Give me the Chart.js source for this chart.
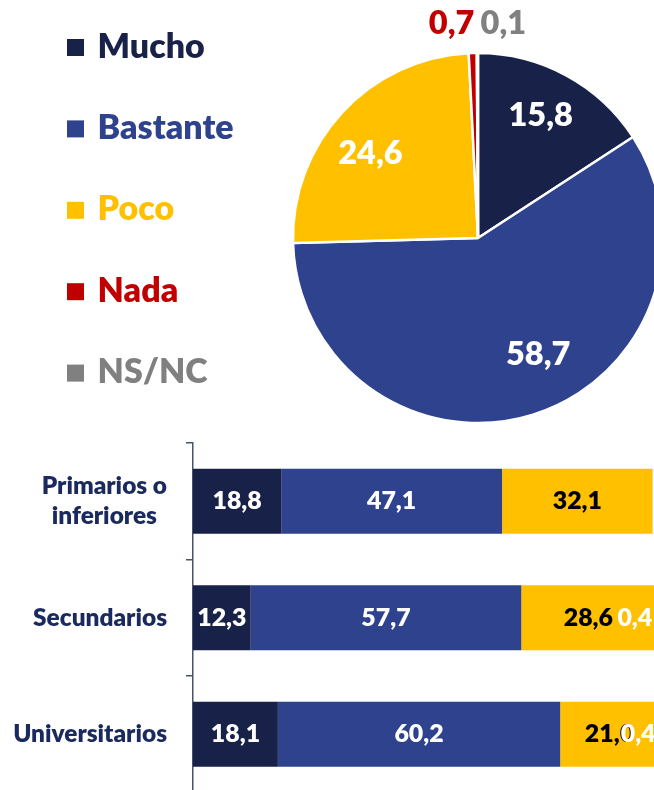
<!DOCTYPE html>
<html>
<head>
<meta charset="utf-8">
<script src="https://cdn.jsdelivr.net/npm/chart.js@4.4.0/dist/chart.umd.min.js"></script>
<style>
html,body{margin:0;padding:0;width:654px;height:790px;overflow:hidden;background:#fff;}
#pie{position:absolute;left:0;top:0;}
#bar{position:absolute;left:0;top:430px;}
</style>
</head>
<body>
<canvas id="pie" width="700" height="430"></canvas>
<canvas id="bar" width="700" height="380"></canvas>
<script>
// ---- data ----
const seriesNames = ['Mucho', 'Bastante', 'Poco', 'Nada', 'NS/NC'];
const seriesColors = ['#182148', '#2E428E', '#FFC000', '#C00000', '#808080'];
const pieValues = [15.8, 58.7, 24.6, 0.7, 0.1];
const categories = [['Primarios o', 'inferiores'], 'Secundarios', 'Universitarios'];
const mucho = [18.8, 12.3, 18.1];
const bastante = [47.1, 57.7, 60.2];
const poco = [32.1, 28.6, 21.0];
const nada = [1.4, 0.4, 0.4];
const nsnc = [0.6, 1.0, 0.3];
const nadaLabelShown = [false, true, true];

// ---- styling helpers ----
const FAMILY = 'Lato, "Open Sans", sans-serif';
const WEIGHT = '800';
function fitFont(text, target) {
  const c = document.createElement('canvas').getContext('2d');
  c.font = WEIGHT + ' 100px ' + FAMILY;
  return 100 * target / c.measureText(text).width;
}
const legendSize = fitFont('Bastante', 136);
const pieLabelSize = fitFont('15,8', 64.4);
const barLabelSize = fitFont('18,8', 49.3);
const catSize = fitFont('Secundarios', 134);
const fmt = v => v.toFixed(1).replace('.', ',');
const font = s => WEIGHT + ' ' + s + 'px ' + FAMILY;

// ---- pie chart ----
const pieLabelColors = ['#fff', '#fff', '#fff', '#C00000', '#808080'];
const pieLabelRadius = [0.74, 0.70, 0.72, 1, 1];
const pieLabelOffset = [[-2.6, -2.3], [21.6, -7.3], [-9.8, 6], [-21.2, -29.1], [25.9, -29]];

const pieLabelsPlugin = {
  id: 'pieLabels',
  afterDatasetsDraw(chart) {
    const ctx = chart.ctx;
    const meta = chart.getDatasetMeta(0);
    ctx.save();
    ctx.font = font(pieLabelSize);
    ctx.textAlign = 'center';
    ctx.textBaseline = 'middle';
    meta.data.forEach((arc, i) => {
      const p = arc.getProps(['x', 'y', 'startAngle', 'endAngle', 'outerRadius'], true);
      const mid = (p.startAngle + p.endAngle) / 2;
      const r = p.outerRadius * pieLabelRadius[i];
      const x = p.x + Math.cos(mid) * r + pieLabelOffset[i][0];
      const y = p.y + Math.sin(mid) * r + pieLabelOffset[i][1];
      ctx.fillStyle = pieLabelColors[i];
      ctx.fillText(fmt(pieValues[i]), x, y);
    });
    ctx.restore();
  }
};

const legendPlugin = {
  id: 'sideLegend',
  afterDraw(chart) {
    const ctx = chart.ctx;
    ctx.save();
    ctx.font = font(legendSize);
    ctx.textAlign = 'left';
    ctx.textBaseline = 'alphabetic';
    seriesNames.forEach((name, i) => {
      const cy = 47.5 + 81.4 * i;
      ctx.fillStyle = seriesColors[i];
      ctx.fillRect(67, cy - 8.5, 17, 17);
      ctx.fillText(name, 97.6, cy + 10);
    });
    ctx.restore();
  }
};

new Chart(document.getElementById('pie'), {
  type: 'pie',
  data: {
    labels: seriesNames,
    datasets: [{
      data: pieValues,
      backgroundColor: seriesColors,
      borderColor: '#ffffff',
      borderWidth: 2.5
    }]
  },
  options: {
    responsive: false,
    animation: false,
    radius: 185,
    layout: { padding: { left: 293, right: 37, top: 53, bottom: 7 } },
    plugins: { legend: { display: false }, tooltip: { enabled: false } }
  },
  plugins: [pieLabelsPlugin, legendPlugin]
});

// ---- stacked bar chart ----
const barLabelColors = ['#fff', '#fff', '#000', '#fff', null];

const barLabelsPlugin = {
  id: 'barLabels',
  afterDatasetsDraw(chart) {
    const ctx = chart.ctx;
    ctx.save();
    ctx.font = font(barLabelSize);
    ctx.textBaseline = 'middle';
    chart.data.datasets.forEach((ds, di) => {
      if (!barLabelColors[di]) return;
      const meta = chart.getDatasetMeta(di);
      meta.data.forEach((bar, i) => {
        const p = bar.getProps(['x', 'y', 'base'], true);
        ctx.fillStyle = barLabelColors[di];
        if (di === 3) {
          if (!nadaLabelShown[i]) return;
          ctx.textAlign = 'left';
          ctx.fillText(fmt(ds.data[i]), p.base - 38, p.y);
        } else {
          ctx.textAlign = 'center';
          ctx.fillText(fmt(ds.data[i]), (p.x + p.base) / 2, p.y);
        }
      });
    });
    ctx.restore();
  }
};

const catLabelsPlugin = {
  id: 'catLabels',
  afterDraw(chart) {
    const ctx = chart.ctx;
    const scale = chart.scales.y;
    ctx.save();
    ctx.font = font(catSize);
    ctx.fillStyle = '#1B2A5E';
    ctx.textAlign = 'center';
    ctx.textBaseline = 'middle';
    categories.forEach((cat, i) => {
      const lines = Array.isArray(cat) ? cat : [cat];
      const y = scale.getPixelForTick(i);
      const maxW = Math.max(...lines.map(l => ctx.measureText(l).width));
      const cx = 167 - maxW / 2;
      const lh = catSize * 1.21;
      lines.forEach((l, j) => {
        ctx.fillText(l, cx, y + (j - (lines.length - 1) / 2) * lh);
      });
    });
    ctx.restore();
  }
};

const barSeries = [mucho, bastante, poco, nada, nsnc];
new Chart(document.getElementById('bar'), {
  type: 'bar',
  data: {
    labels: categories,
    datasets: barSeries.map((d, i) => ({
      label: seriesNames[i],
      data: d,
      backgroundColor: seriesColors[i],
      borderColor: '#ffffff',
      borderWidth: i >= 3 ? { left: 2, right: 0, top: 0, bottom: 0 } : 0,
      borderSkipped: false,
      barPercentage: 0.56,
      categoryPercentage: 1
    }))
  },
  options: {
    responsive: false,
    animation: false,
    indexAxis: 'y',
    layout: { padding: { left: 0, right: 38, top: 13, bottom: 17.5 } },
    scales: {
      x: { stacked: true, min: 0, max: 100, display: false },
      y: {
        stacked: true,
        grid: { drawOnChartArea: false, drawTicks: true, tickLength: 7, color: '#44546A', lineWidth: 1.5, offset: true },
        border: { display: true, color: '#44546A', width: 1.5 },
        ticks: { display: false },
        afterFit(s) { s.width = 193; }
      }
    },
    plugins: { legend: { display: false }, tooltip: { enabled: false } }
  },
  plugins: [barLabelsPlugin, catLabelsPlugin]
});
</script>
</body>
</html>
